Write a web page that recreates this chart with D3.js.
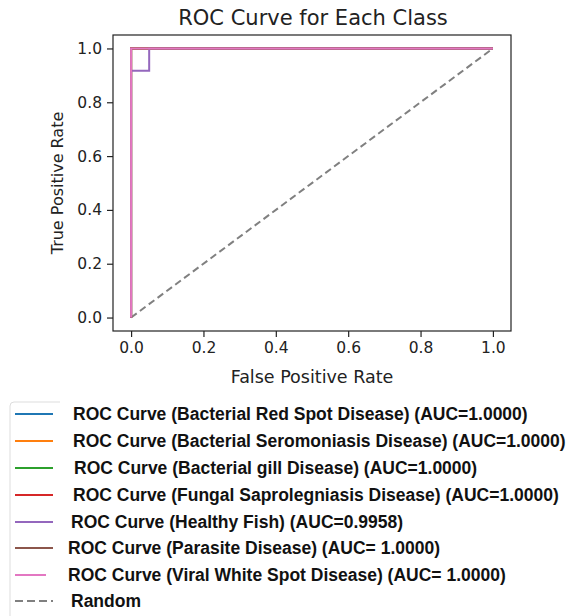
<!DOCTYPE html>
<meta charset="utf-8">
<body style="margin:0;background:#fff">
<style>
.tick text { font: 15.5px "DejaVu Sans", sans-serif; fill: #222; }
.lab { font: 17.5px "DejaVu Sans", sans-serif; fill: #222; text-anchor: middle; }
.leg { font: bold 17.5px "Liberation Sans", Arial, sans-serif; fill: #111; }
</style>
<script src="https://cdnjs.cloudflare.com/ajax/libs/d3/7.8.5/d3.min.js"></script>
<script>

var classes = ["Bacterial Red Spot Disease", "Bacterial Seromoniasis Disease", "Bacterial gill Disease",
  "Fungal Saprolegniasis Disease", "Healthy Fish", "Parasite Disease", "Viral White Spot Disease"];
var aucs = ["1.0000", "1.0000", "1.0000", "1.0000", "0.9958", " 1.0000", " 1.0000"];
var colors = ["#1f77b4", "#ff7f0e", "#2ca02c", "#d62728", "#9467bd", "#8c564b", "#e377c2"];
// roc points per class
var fprs = [[0, 0, 1], [0, 0, 1], [0, 0, 1], [0, 0, 1], [0, 0, 0.05, 0.05, 1], [0, 0, 1], [0, 0, 1]];
var tprs = [[0, 1, 1], [0, 1, 1], [0, 1, 1], [0, 1, 1], [0, 0.9167, 0.9167, 1, 1], [0, 1, 1], [0, 1, 1]];
var ticks = [0, 0.2, 0.4, 0.6, 0.8, 1.0];

var width = 568, height = 616;
var box = {l: 113, t: 35, r: 511, b: 331};

var svg = d3.select("body").append("svg")
    .attr("width", width)
    .attr("height", height);

var x = d3.scaleLinear().domain([-0.05, 1.05]).range([box.l, box.r]);
var y = d3.scaleLinear().domain([-0.05, 1.05]).range([box.b, box.t]);

svg.append("g")
    .attr("transform", "translate(0," + box.b + ")")
    .call(d3.axisBottom(x).tickValues(ticks).tickFormat(d3.format(".1f")).tickSize(6).tickPadding(5))
    .call(function(g) { g.select(".domain").remove(); });

svg.append("g")
    .attr("transform", "translate(" + box.l + ",0)")
    .call(d3.axisLeft(y).tickValues(ticks).tickFormat(d3.format(".1f")).tickSize(6).tickPadding(5))
    .call(function(g) { g.select(".domain").remove(); });

svg.selectAll(".tick line").attr("stroke", "#222").attr("stroke-width", 1.2);

var line = d3.line().x(function(d) { return x(d[0]); }).y(function(d) { return y(d[1]); });

// random
svg.append("path")
    .attr("d", line([[0, 0], [1, 1]]))
    .attr("fill", "none")
    .attr("stroke", "#808080")
    .attr("stroke-width", 2)
    .attr("stroke-dasharray", "7,4");

classes.forEach(function(c, i) {
  var pts = fprs[i].map(function(f, j) { return [f, tprs[i][j]]; });
  svg.append("path")
      .attr("d", line(pts))
      .attr("fill", "none")
      .attr("stroke", colors[i])
      .attr("stroke-width", 2);
});

svg.append("rect")
    .attr("x", box.l).attr("y", box.t)
    .attr("width", box.r - box.l).attr("height", box.b - box.t)
    .attr("fill", "none").attr("stroke", "#222").attr("stroke-width", 1.2);

svg.append("text").attr("class", "lab")
    .attr("x", (box.l + box.r) / 2 + 1).attr("y", 25)
    .style("font-size", "21px")
    .text("ROC Curve for Each Class");

svg.append("text").attr("class", "lab")
    .attr("x", (box.l + box.r) / 2).attr("y", 383)
    .text("False Positive Rate");

svg.append("text").attr("class", "lab")
    .attr("transform", "translate(63," + (box.t + box.b) / 2 + ") rotate(-90)")
    .style("font-size", "16px")
    .text("True Positive Rate");

// legend (rows are a bit uneven in the original)
var legY = [414, 441, 468, 495, 522, 548, 575, 601];
var legTx = [73, 73, 74, 73, 71, 68, 68, 71];
var legEnd = [53, 53, 53, 53, 53, 53, 46, 53];

svg.append("path")
    .attr("d", "M60,402 H14 Q10,402 10,406 V616")
    .attr("fill", "none").attr("stroke", "#ddd").attr("stroke-width", 1);

var labels = classes.map(function(c, i) { return "ROC Curve (" + c + ") (AUC=" + aucs[i] + ")"; });
labels.push("Random");
var legColors = colors.concat(["#808080"]);

labels.forEach(function(t, i) {
  svg.append("line")
      .attr("x1", 15).attr("x2", legEnd[i])
      .attr("y1", legY[i]).attr("y2", legY[i])
      .attr("stroke", legColors[i]).attr("stroke-width", 2)
      .attr("stroke-dasharray", i == 7 ? "8,4" : null);
  svg.append("text").attr("class", "leg")
      .attr("x", legTx[i]).attr("y", legY[i] + 6)
      .text(t);
});

</script>
</body>
